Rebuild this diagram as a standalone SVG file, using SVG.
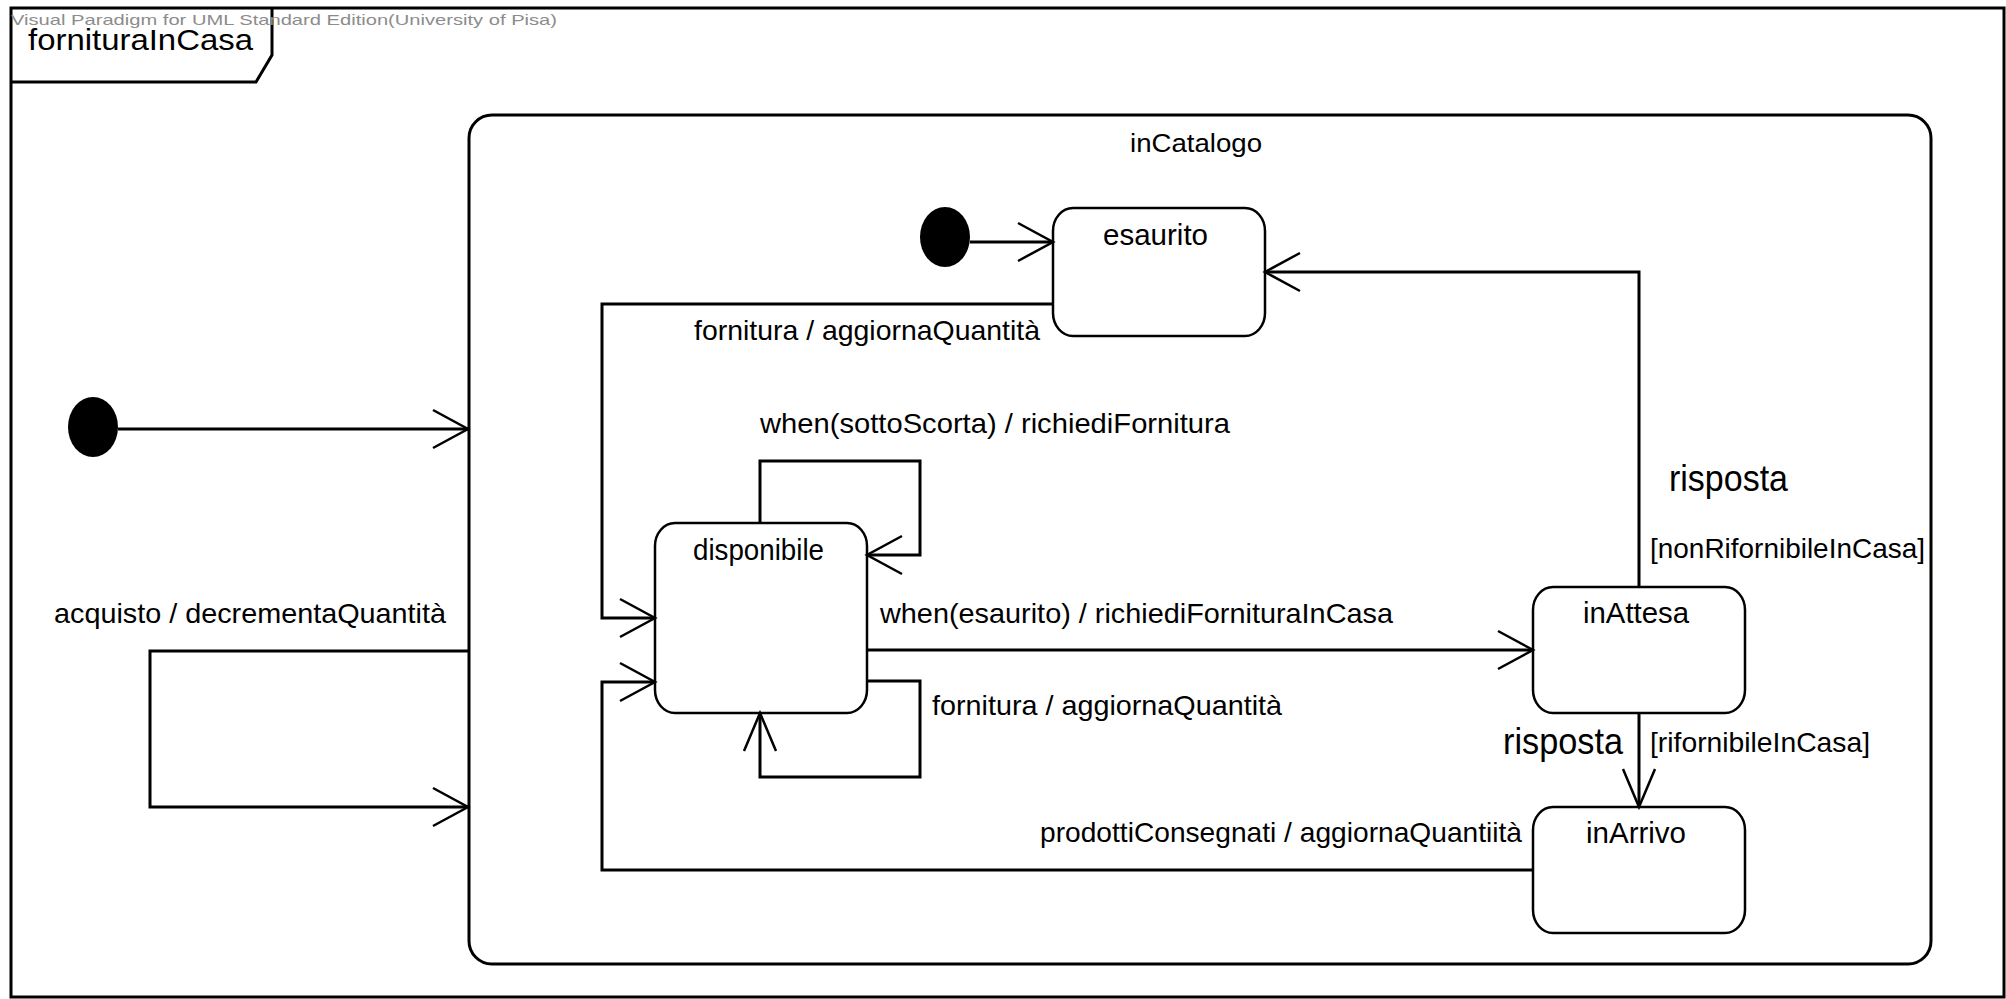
<svg xmlns="http://www.w3.org/2000/svg" width="2006" height="999" viewBox="0 0 2006 999">
<style>
text{font-family:"Liberation Sans",Arial,sans-serif;fill:#000}
.lbl{font-size:28px}
.node{font-size:29px}
.big{font-size:36px}
.wm{font-size:15px;fill:#8c8c8c}
.frame{fill:none;stroke:#000;stroke-width:3}
.state{fill:#fff;stroke:#000;stroke-width:2.5}
.conn{fill:none;stroke:#000;stroke-width:3}
</style>
<defs>
<marker id="arrH" markerUnits="userSpaceOnUse" markerWidth="50" markerHeight="50" refX="0" refY="0" viewBox="-40 -25 50 50" orient="auto" overflow="visible">
<path d="M-35,-19 L0,0 L-35,19" fill="none" stroke="#000" stroke-width="2.5"/>
</marker>
<marker id="arrV" markerUnits="userSpaceOnUse" markerWidth="50" markerHeight="50" refX="0" refY="0" viewBox="-40 -25 50 50" orient="auto" overflow="visible">
<path d="M-38,-16 L0,0 L-38,16" fill="none" stroke="#000" stroke-width="2.5"/>
</marker>
</defs>
<rect width="2006" height="999" fill="#fff"/>
<g id="frame">
<rect class="frame" x="11" y="8" width="1993" height="989"/>
<path class="frame" d="M11,82 L256,82 L272,55 L272,8"/>
<text class="wm" x="11" y="25" textLength="546" lengthAdjust="spacingAndGlyphs">Visual Paradigm for UML Standard Edition(University of Pisa)</text>
<text x="28" y="50" style="font-size:29px" textLength="225" lengthAdjust="spacingAndGlyphs">fornituraInCasa</text>
</g>
<g id="inCatalogo">
<rect class="frame" x="469" y="115" width="1462" height="849" rx="23" ry="23"/>
<text x="1130" y="152" style="font-size:25px" textLength="132" lengthAdjust="spacingAndGlyphs">inCatalogo</text>
</g>
<g id="initial1"><ellipse cx="93" cy="427" rx="25" ry="30" fill="#000"/></g>
<g id="initial2"><ellipse cx="945" cy="237" rx="25" ry="30" fill="#000"/></g>
<g id="esaurito">
<rect class="state" x="1053" y="208" width="212" height="128" rx="20" ry="23"/>
<text class="node" x="1103" y="245" textLength="105" lengthAdjust="spacingAndGlyphs">esaurito</text>
</g>
<g id="disponibile">
<rect class="state" x="655" y="523" width="212" height="190" rx="20" ry="23"/>
<text class="node" x="693" y="560" textLength="131" lengthAdjust="spacingAndGlyphs">disponibile</text>
</g>
<g id="inAttesa">
<rect class="state" x="1533" y="587" width="212" height="126" rx="20" ry="23"/>
<text class="node" x="1583" y="623" textLength="106" lengthAdjust="spacingAndGlyphs">inAttesa</text>
</g>
<g id="inArrivo">
<rect class="state" x="1533" y="807" width="212" height="126" rx="20" ry="23"/>
<text class="node" x="1586" y="843" textLength="100" lengthAdjust="spacingAndGlyphs">inArrivo</text>
</g>
<g id="connectors">
<path class="conn" d="M118,429 L468,429" marker-end="url(#arrH)"/>
<path class="conn" d="M469,651 L150,651 L150,807 L468,807" marker-end="url(#arrH)"/>
<text class="lbl" x="54" y="623" textLength="392" lengthAdjust="spacingAndGlyphs">acquisto / decrementaQuantità</text>
<path class="conn" d="M970,242 L1053,242" marker-end="url(#arrH)"/>
<path class="conn" d="M1053,304 L602,304 L602,618 L655,618" marker-end="url(#arrH)"/>
<text class="lbl" x="694" y="340" textLength="346" lengthAdjust="spacingAndGlyphs">fornitura / aggiornaQuantità</text>
<path class="conn" d="M760,523 L760,461 L920,461 L920,555 L867,555" marker-end="url(#arrH)"/>
<text class="lbl" x="760" y="433" textLength="470" lengthAdjust="spacingAndGlyphs">when(sottoScorta) / richiediFornitura</text>
<path class="conn" d="M867,650 L1533,650" marker-end="url(#arrH)"/>
<text class="lbl" x="880" y="623" textLength="513" lengthAdjust="spacingAndGlyphs">when(esaurito) / richiediFornituraInCasa</text>
<path class="conn" d="M867,681 L920,681 L920,777 L760,777 L760,713" marker-end="url(#arrV)"/>
<text class="lbl" x="932" y="715" textLength="350" lengthAdjust="spacingAndGlyphs">fornitura / aggiornaQuantità</text>
<path class="conn" d="M1639,587 L1639,272 L1265,272" marker-end="url(#arrH)"/>
<text class="big" x="1669" y="491" textLength="119" lengthAdjust="spacingAndGlyphs">risposta</text>
<text class="lbl" x="1650" y="558" textLength="275" lengthAdjust="spacingAndGlyphs">[nonRifornibileInCasa]</text>
<path class="conn" d="M1639,713 L1639,807" marker-end="url(#arrV)"/>
<text class="big" x="1503" y="754" textLength="120" lengthAdjust="spacingAndGlyphs">risposta</text>
<text class="lbl" x="1650" y="752" textLength="220" lengthAdjust="spacingAndGlyphs">[rifornibileInCasa]</text>
<path class="conn" d="M1533,870 L602,870 L602,682 L655,682" marker-end="url(#arrH)"/>
<text class="lbl" x="1040" y="842" textLength="482" lengthAdjust="spacingAndGlyphs">prodottiConsegnati / aggiornaQuantiità</text>
</g>
</svg>
